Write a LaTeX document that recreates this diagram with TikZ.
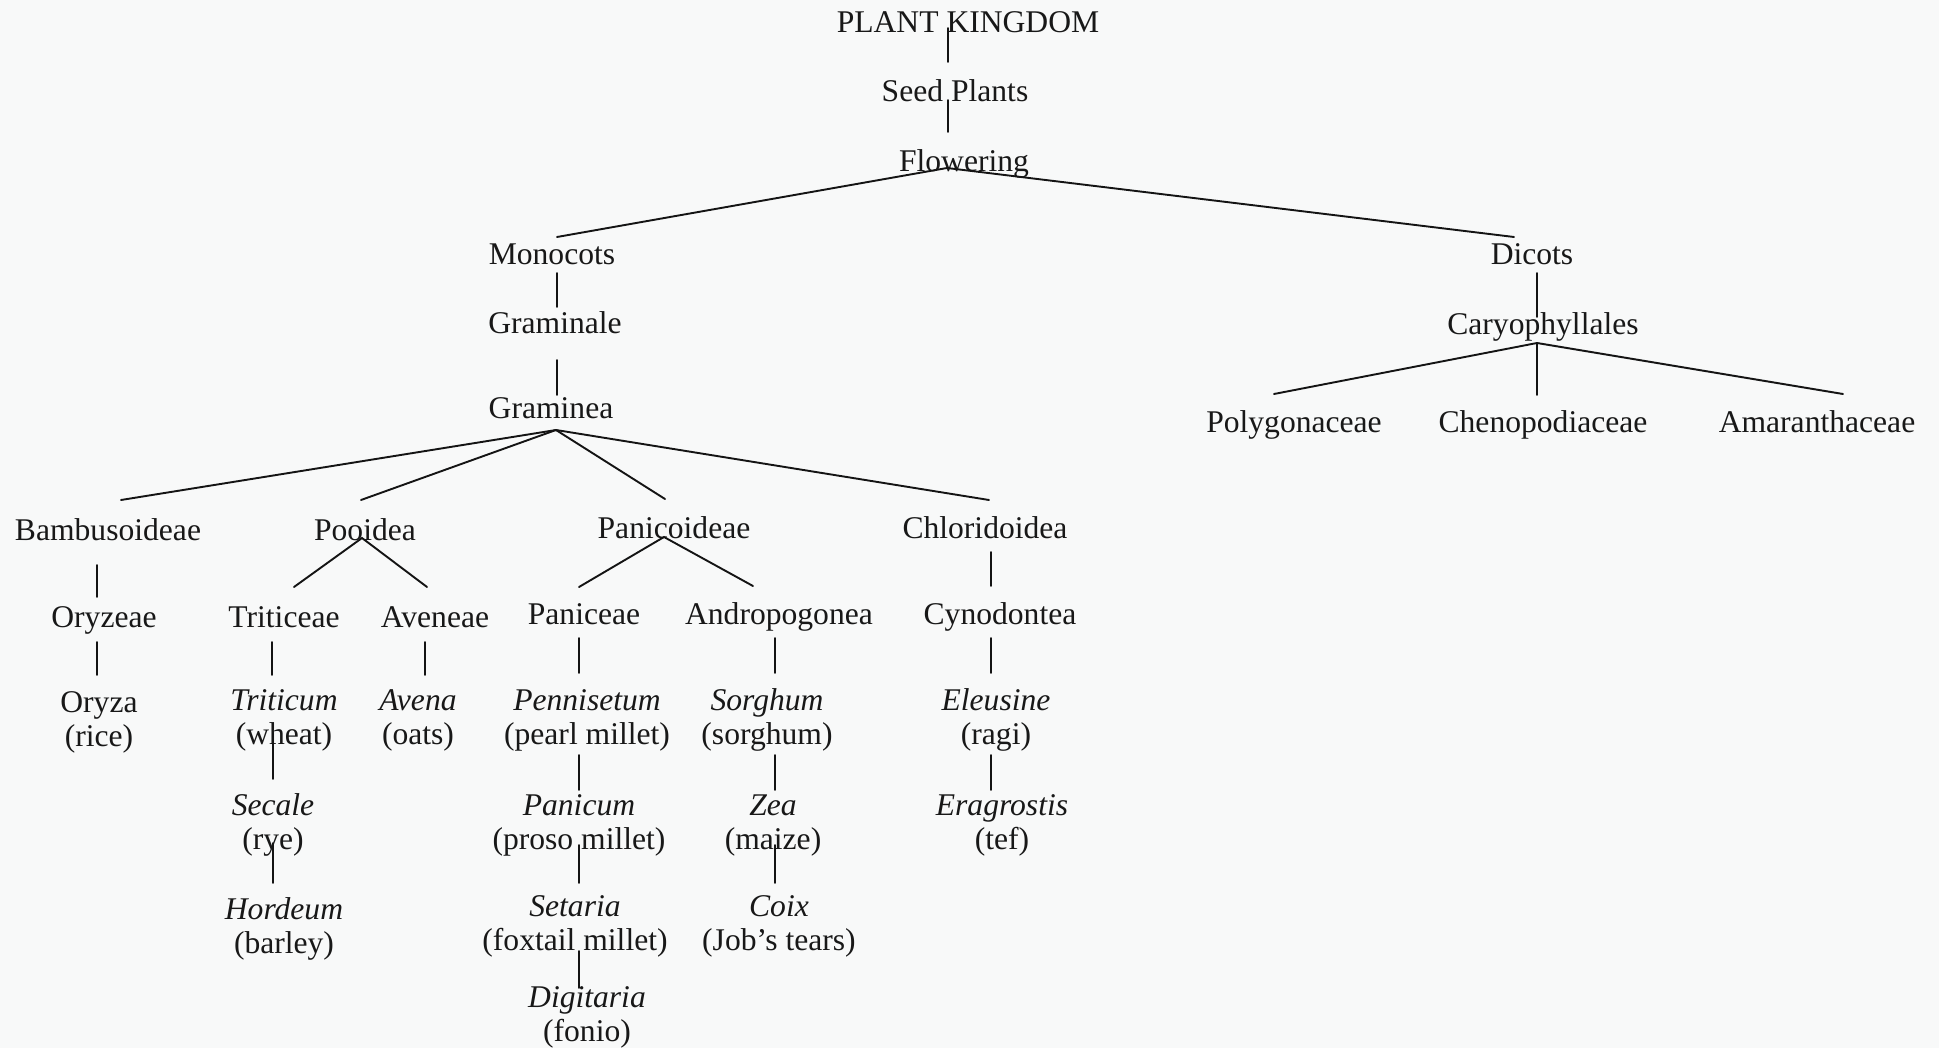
\documentclass[tikz,border=0pt]{standalone}
\usepackage{fontspec}
\setmainfont{Liberation Serif}
\definecolor{bgc}{RGB}{248,249,249}
\definecolor{txt}{RGB}{24,24,24}
\definecolor{lnc}{RGB}{20,20,20}
\newcommand\twoline[2]{\vtop{\baselineskip=34.5pt\halign{\hfil##\hfil\cr#1\cr#2\cr}}}
\begin{document}
\begin{tikzpicture}[x=1pt,y=-1pt,
  lab/.style={anchor=base, inner sep=0pt, font=\fontsize{31.6}{34.5}\selectfont, text=txt},
  link/.style={line width=1.9pt, draw=lnc, line cap=round}]
\fill[bgc] (0,0) rectangle (1939,1048);
\useasboundingbox (0,0) rectangle (1939,1048);

% ---- top chain
\node[lab] (pk)  at (968,33)  {PLANT KINGDOM};
\node[lab] (sp)  at (955,102) {Seed Plants};
\node[lab] (fl)  at (964,172) {Flowering};
\node[lab] (mono) at (552,265) {Monocots};
\node[lab] (dic) at (1532,265) {Dicots};
\node[lab] (gml) at (555,334) {Graminale};
\node[lab] (gmn) at (551,419) {Graminea};
\node[lab] (car) at (1543,335) {Caryophyllales};
\node[lab] (pol) at (1294,433) {Polygonaceae};
\node[lab] (che) at (1543,433) {Chenopodiaceae};
\node[lab] (ama) at (1817,433) {Amaranthaceae};
% ---- subfamilies
\node[lab] (bam) at (108,540) {Bambusoideae};
\node[lab] (poo) at (365,540) {Pooidea};
\node[lab] (pan) at (674,538) {Panicoideae};
\node[lab] (chl) at (985,538) {Chloridoidea};
% ---- tribes
\node[lab] (ory) at (104,627) {Oryzeae};
\node[lab] (tri) at (284,627) {Triticeae};
\node[lab] (ave) at (435,627) {Aveneae};
\node[lab] (pnc) at (584,624) {Paniceae};
\node[lab] (and) at (779,624) {Andropogonea};
\node[lab] (cyn) at (1000,624) {Cynodontea};
% ---- genera
\node[lab] (oryza) at (99,712)  {\twoline{Oryza}{(rice)}};
\node[lab] (trit)  at (284,710) {\twoline{\textit{Triticum}}{(wheat)}};
\node[lab] (sec)   at (273,815) {\twoline{\textit{Secale}}{(rye)}};
\node[lab] (hor)   at (284,919) {\twoline{\textit{Hordeum}}{(barley)}};
\node[lab] (aven)  at (418,710) {\twoline{\textit{Avena}}{(oats)}};
\node[lab] (pen)   at (587,710) {\twoline{\textit{Pennisetum}}{(pearl millet)}};
\node[lab] (panm)  at (579,815) {\twoline{\textit{Panicum}}{(proso millet)}};
\node[lab] (set)   at (575,916) {\twoline{\textit{Setaria}}{(foxtail millet)}};
\node[lab] (dig)   at (587,1007) {\twoline{\textit{Digitaria}}{(fonio)}};
\node[lab] (sor)   at (767,710) {\twoline{\textit{Sorghum}}{(sorghum)}};
\node[lab] (zea)   at (773,815) {\twoline{\textit{Zea}}{(maize)}};
\node[lab] (coix)  at (779,916) {\twoline{\textit{Coix}}{(Job’s tears)}};
\node[lab] (ele)   at (996,710) {\twoline{\textit{Eleusine}}{(ragi)}};
\node[lab] (era)   at (1002,815) {\twoline{\textit{Eragrostis}}{(tef)}};

% ---- connector end points
\coordinate (pk-o) at (948,28);   \coordinate (sp-i) at (948,62);
\coordinate (sp-o) at (948,100);  \coordinate (fl-i) at (948,132);
\coordinate (fl-o) at (947,168);
\coordinate (mono-i) at (557,237); \coordinate (dic-i) at (1514,237);
\coordinate (mono-o) at (557,273); \coordinate (gml-i) at (557,307);
\coordinate (gml-o) at (557,360);  \coordinate (gmn-i) at (557,395);
\coordinate (gmn-o) at (556,430);
\coordinate (bam-i) at (121,500);  \coordinate (poo-i) at (361,500);
\coordinate (pan-i) at (665,499);  \coordinate (chl-i) at (989,500);
\coordinate (bam-o) at (97,565);   \coordinate (ory-i) at (97,597);
\coordinate (ory-o) at (97,642);   \coordinate (oryza-i) at (97,675);
\coordinate (poo-o) at (362,538);
\coordinate (tri-i) at (294,587);  \coordinate (ave-i) at (427,587);
\coordinate (tri-o) at (272,642);  \coordinate (trit-i) at (272,675);
\coordinate (ave-o) at (425,642);  \coordinate (aven-i) at (425,675);
\coordinate (trit-o) at (273,733); \coordinate (sec-i) at (273,779);
\coordinate (sec-o) at (273,843);  \coordinate (hor-i) at (273,883);
\coordinate (pan-o) at (664,537);
\coordinate (pnc-i) at (579,587);  \coordinate (and-i) at (753,586);
\coordinate (chl-o) at (991,552);  \coordinate (cyn-i) at (991,586);
\coordinate (pnc-o) at (579,638);  \coordinate (pen-i) at (579,673);
\coordinate (and-o) at (775,638);  \coordinate (sor-i) at (775,673);
\coordinate (cyn-o) at (991,638);  \coordinate (ele-i) at (991,673);
\coordinate (pen-o) at (579,755);  \coordinate (panm-i) at (579,790);
\coordinate (panm-o) at (579,845); \coordinate (set-i) at (579,883);
\coordinate (set-o) at (579,951);  \coordinate (dig-i) at (579,988);
\coordinate (sor-o) at (775,755);  \coordinate (zea-i) at (775,790);
\coordinate (zea-o) at (775,845);  \coordinate (coix-i) at (775,883);
\coordinate (ele-o) at (991,755);  \coordinate (era-i) at (991,790);
\coordinate (dic-o) at (1537,273); \coordinate (car-i) at (1537,317);
\coordinate (car-o) at (1537,343);
\coordinate (pol-i) at (1274,394); \coordinate (che-i) at (1537,395);
\coordinate (ama-i) at (1843,394);

% ---- connectors
\draw[link] (pk-o) -- (sp-i);
\draw[link] (sp-o) -- (fl-i);
\draw[link] (mono-i) -- (fl-o) -- (dic-i);
\draw[link] (mono-o) -- (gml-i);
\draw[link] (gml-o) -- (gmn-i);
\draw[link] (gmn-o) -- (bam-i);
\draw[link] (gmn-o) -- (poo-i);
\draw[link] (gmn-o) -- (pan-i);
\draw[link] (gmn-o) -- (chl-i);
\draw[link] (bam-o) -- (ory-i);
\draw[link] (ory-o) -- (oryza-i);
\draw[link] (tri-i) -- (poo-o) -- (ave-i);
\draw[link] (tri-o) -- (trit-i);
\draw[link] (ave-o) -- (aven-i);
\draw[link] (trit-o) -- (sec-i);
\draw[link] (sec-o) -- (hor-i);
\draw[link] (pnc-i) -- (pan-o) -- (and-i);
\draw[link] (chl-o) -- (cyn-i);
\draw[link] (pnc-o) -- (pen-i);
\draw[link] (and-o) -- (sor-i);
\draw[link] (cyn-o) -- (ele-i);
\draw[link] (pen-o) -- (panm-i);
\draw[link] (panm-o) -- (set-i);
\draw[link] (set-o) -- (dig-i);
\draw[link] (sor-o) -- (zea-i);
\draw[link] (zea-o) -- (coix-i);
\draw[link] (ele-o) -- (era-i);
\draw[link] (dic-o) -- (car-i);
\draw[link] (pol-i) -- (car-o) -- (ama-i);
\draw[link] (car-o) -- (che-i);
\end{tikzpicture}
\end{document}
